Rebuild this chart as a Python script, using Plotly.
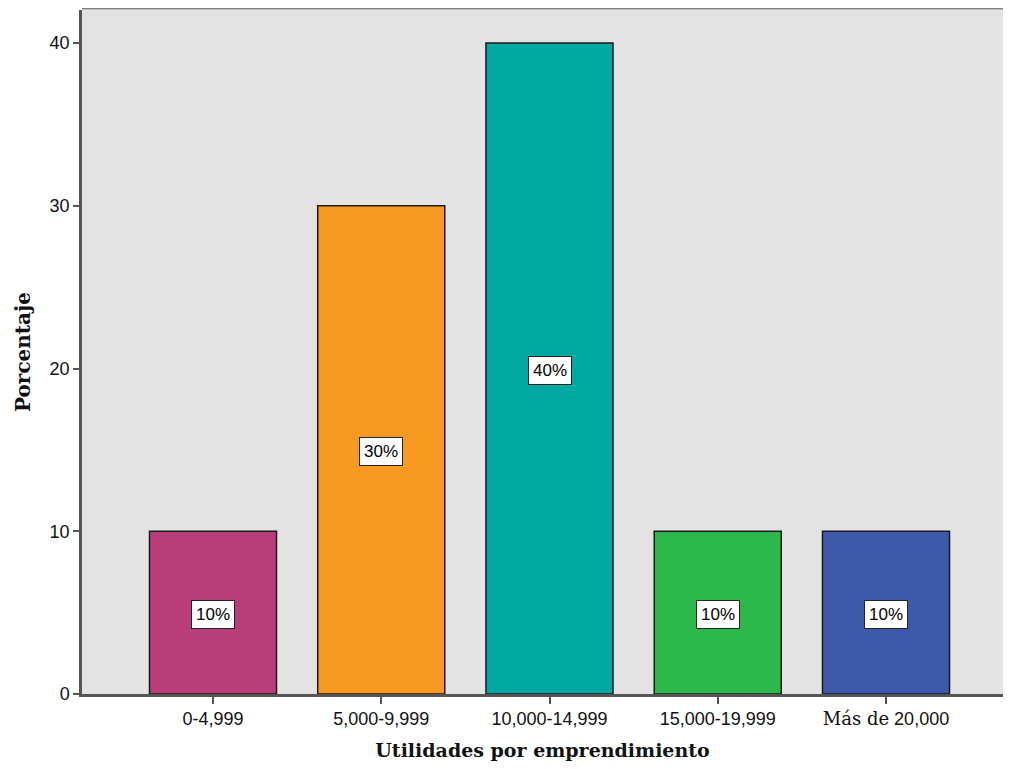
import plotly.graph_objects as go

categorias = ['0-4,999', '5,000-9,999', '10,000-14,999', '15,000-19,999', 'Más de 20,000']
etiquetas_x = ['0-4,999', '5,000-9,999', '10,000-14,999', '15,000-19,999',
               '<span style="font-family:DejaVu Serif">Más de</span> 20,000']
porcentaje = [10, 30, 40, 10, 10]
etiquetas = ['10%', '30%', '40%', '10%', '10%']
colores = ['#B93C7B', '#F89A21', '#00A8A2', '#2DB84B', '#3E58AA']

fig = go.Figure(go.Bar(
    x=categorias,
    y=porcentaje,
    width=0.755,
    marker=dict(color=colores, line=dict(color='#1a1a1a', width=1.5)),
))

# etiquetas en medio de cada barra
for cat, val, txt in zip(categorias, porcentaje, etiquetas):
    fig.add_annotation(
        x=cat, y=val / 2, text=txt, showarrow=False, yshift=-2,
        font=dict(family='Liberation Sans', size=17, color='black'),
        bgcolor='white', bordercolor='#222222', borderwidth=1, borderpad=4,
    )

# el body de la pagina tiene 8px de margen: se compensa aqui
fig.update_layout(
    width=995, height=753,
    margin=dict(l=74, r=0, t=2, b=67),
    plot_bgcolor='#E3E3E3',
    paper_bgcolor='white',
    showlegend=False,
    font=dict(family='Liberation Sans', size=18, color='#111111'),
)

fig.update_xaxes(
    type='category', range=[-0.7786, 4.6954],
    tickvals=categorias, ticktext=etiquetas_x,
    showline=True, linecolor='#555555', linewidth=2.5,
    ticks='outside', ticklen=7, tickwidth=2, tickcolor='#555555',
    tickfont=dict(family='Liberation Sans', size=18),
    showgrid=False,
    title=dict(text='<b>Utilidades por emprendimiento</b>',
               font=dict(family='DejaVu Serif', size=19), standoff=18),
)

fig.update_yaxes(
    range=[0, 42.03], tickvals=[0, 10, 20, 30, 40],
    showline=True, linecolor='#555555', linewidth=2.5,
    ticks='outside', ticklen=6, tickwidth=2, tickcolor='#555555',
    tickfont=dict(family='Liberation Sans', size=18),
    showgrid=False, zeroline=False,
    title=dict(text='<b>Porcentaje</b>',
               font=dict(family='DejaVu Serif', size=20), standoff=14),
)

# borde superior del area de grafico
fig.add_shape(type='line', xref='paper', yref='paper', x0=0, x1=1, y0=1.003, y1=1.003,
              line=dict(color='#808080', width=3))

fig.write_html('out.html')
